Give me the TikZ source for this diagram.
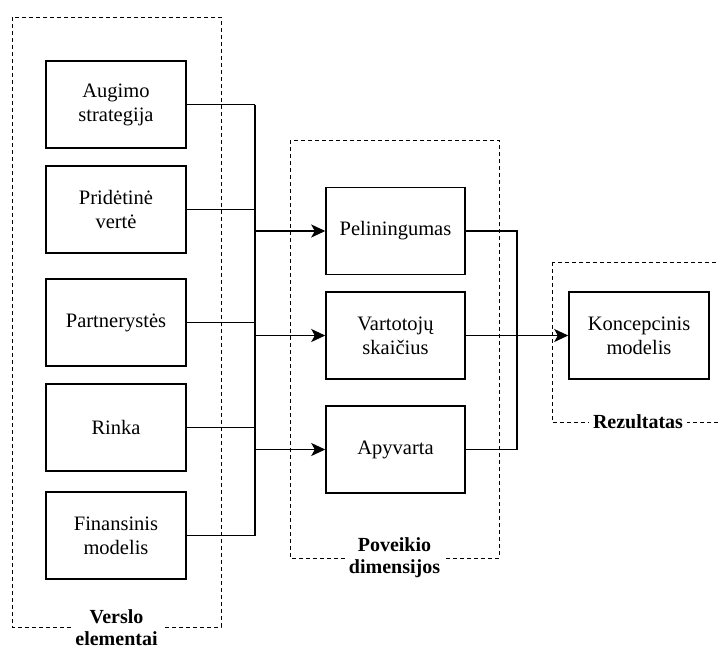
\documentclass[tikz,border=0pt]{standalone}
\usepackage{fontspec}
\setmainfont{Liberation Serif}
\usetikzlibrary{arrows.meta}
\tikzset{
  elem/.style={draw, line width=1.5pt, minimum width=140pt, minimum height=87pt, align=center, inner sep=2pt, font=\fontsize{20.5}{24}\selectfont},
  grp/.style={draw, dash pattern=on 4pt off 3pt, line width=1pt},
  grplabel/.style={fill=white, align=center, inner sep=4pt, font=\fontsize{20}{22}\selectfont\bfseries},
  conn/.style={line width=1.4pt},
  arr/.style={line width=1.4pt, -{Stealth[length=14pt, width=13pt, inset=3.5pt]}}
}
\begin{document}
\begin{tikzpicture}[x=1pt, y=-1pt]
\useasboundingbox (0,0) rectangle (718,649);
\fill[white] (0,0) rectangle (718,649);
\begin{scope}
\clip (0,0) rectangle (718,649);
% groups
\draw[grp] (12,17) rectangle (221,627);
\draw[grp] (290,140) rectangle (499,558);
\draw[grp] (552,262) rectangle (726,422);
% left elements
\node[elem] (b1) at (116,104.5) {Augimo\\strategija};
\node[elem] (b2) at (116,209.5) {Pridėtinė\\vertė};
\node[elem] (b3) at (116,322.5) {Partnerystės};
\node[elem] (b4) at (116,427.5) {Rinka};
\node[elem] (b5) at (116,535.5) {Finansinis\\modelis};
% middle
\node[elem, minimum width=139pt] (m1) at (395.5,231) {Peliningumas};
\node[elem, minimum width=139pt] (m2) at (395.5,335.5) {Vartotojų\\skaičius};
\node[elem, minimum width=139pt] (m3) at (395.5,449.5) {Apyvarta};
% right
\node[elem] (k) at (639,335.5) {Koncepcinis\\modelis};
% junctions
\coordinate (jtop) at (255,104.5);
\coordinate (jbot) at (255,535.5);
\coordinate (kx) at (517,231);
\draw[conn] (b1.east) -- (jtop);
\draw[conn] (b2.east) -- (b2.east -| jtop);
\draw[conn] (b3.east) -- (b3.east -| jtop);
\draw[conn] (b4.east) -- (b4.east -| jtop);
\draw[conn] (b5.east) -- (jbot);
\draw[conn] (jtop) -- (jbot);
\draw[arr] (m1.west -| jtop) -- (m1.west);
\draw[arr] (m2.west -| jtop) -- (m2.west);
\draw[arr] (m3.west -| jtop) -- (m3.west);
\draw[conn] (m1.east) -- (m1.east -| kx) -- (m3.east -| kx) -- (m3.east);
\draw[arr] (m2.east) -- (k.west);
% group labels
\node[grplabel] (l1) at (116.5,628) {Verslo\\elementai};
\node[grplabel] (l2) at (394.5,558) {Poveikio\\dimensijos};
\node[grplabel] (l3) at (638,422) {Rezultatas};
\end{scope}
\end{tikzpicture}
\end{document}
